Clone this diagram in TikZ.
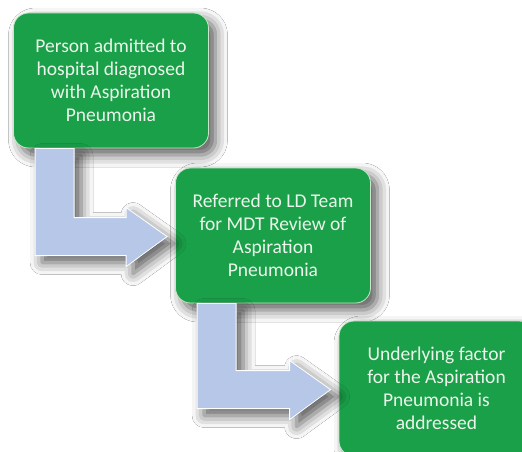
\documentclass[tikz,border=0pt]{standalone}
\usepackage{fontspec}
\setmainfont{Carlito}
\usetikzlibrary{calc,shadows.blur}
\definecolor{boxgreen}{RGB}{26,160,72}
\definecolor{boxline}{RGB}{200,230,200}
\definecolor{boxtext}{RGB}{235,245,235}
\definecolor{arrowblue}{RGB}{182,199,232}
\newcommand{\bentarrow}[2]{%
\path[bent] ($(#1.south west)+(22,0)$) -- ($(#1.south west)+(61,0)$)
  |- ($(#2.north west)+(-49,50)$) -- ($(#2.north west)+(-49,40)$)
  -- ($(#2.north west)+(-8,69)$) -- ($(#2.north west)+(-49,99)$)
  -- ($(#2.north west)+(-49,88)$) -| ($(#1.south west)+(22,0)$) -- cycle;}
\begin{document}
\begin{tikzpicture}[x=1pt,y=-1pt,
  stepbox/.style={rectangle,rounded corners=15pt,fill=boxgreen,draw=boxline,line width=0.8pt,
    minimum width=195pt,minimum height=135pt,align=center,text=boxtext,
    font=\fontsize{19.5}{23}\selectfont,
    blur shadow={shadow xshift=7pt,shadow yshift=-7pt,shadow blur radius=12pt,shadow opacity=65}},
  bent/.style={fill=arrowblue,draw=white,line width=0.8pt,
    blur shadow={shadow xshift=7pt,shadow yshift=-7pt,shadow blur radius=12pt,shadow opacity=65}}]
\useasboundingbox[fill=white] (0,0) rectangle (522,452);
\clip (0,0) rectangle (522,452);

\node[stepbox] (admit) at (111,80.5) {Person admitted to\\hospital diagnosed\\with Aspiration\\Pneumonia};
\node[stepbox] (refer) at (273,235.5) {Referred to LD Team\\for MDT Review of\\Aspiration\\Pneumonia};
\node[stepbox] (factor) at (436.5,388.5) {Underlying factor\\for the Aspiration\\Pneumonia is\\addressed};

\bentarrow{admit}{refer}
\bentarrow{refer}{factor}
\end{tikzpicture}
\end{document}
